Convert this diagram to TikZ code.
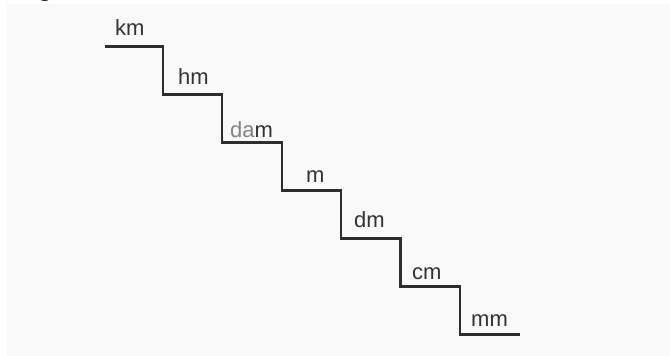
\documentclass[tikz,border=0pt]{standalone}
\usepackage{fontspec}
\setmainfont{Liberation Sans}
\newfontfamily\capfont{Liberation Serif}
\definecolor{panel}{HTML}{F9F9F9}
\definecolor{stair}{HTML}{2E2E2E}
\definecolor{ink}{HTML}{333333}
\definecolor{paleink}{HTML}{858585}
\begin{document}
\begin{tikzpicture}[x=1pt,y=-1pt,
  stairline/.style={draw=stair,line width=2.6pt,line join=miter,line cap=butt},
  unit/.style={anchor=base west,inner sep=0pt,text=ink,font=\fontsize{22}{22}\selectfont}]
  % page and shaded panel
  \fill[white] (0,0) rectangle (670,356);
  \useasboundingbox (0,0) rectangle (670,356);
  \fill[panel] (7,4) rectangle (670,356);
  % caption letter running off the top edge
  \begin{scope}
    \clip (0,0) rectangle (670,356);
    \node[anchor=base,inner sep=0pt,font=\capfont\bfseries\fontsize{22}{22}\selectfont] (cap) at (45,-3) {g};
  \end{scope}
  % corners of the staircase
  \coordinate (s0) at (105,46.5);
  \coordinate (c1) at (163,46.5);  \coordinate (c2) at (163,94.5);
  \coordinate (c3) at (222,94.5);  \coordinate (c4) at (222,142.5);
  \coordinate (c5) at (282,142.5); \coordinate (c6) at (282,190.5);
  \coordinate (c7) at (341,190.5); \coordinate (c8) at (341,238.5);
  \coordinate (c9) at (400.5,238.5); \coordinate (c10) at (400.5,286.5);
  \coordinate (c11) at (460,286.5); \coordinate (c12) at (460,334.5);
  \coordinate (s1) at (520,334.5);
  \path[stairline] (s0) -- (c1) -- (c2) -- (c3) -- (c4) -- (c5) -- (c6)
    -- (c7) -- (c8) -- (c9) -- (c10) -- (c11) -- (c12) -- (s1);
  % unit labels on the treads
  \node[unit] (km) at (115,35) {km};
  \node[unit] (hm) at (178,84) {hm};
  \node[unit] (dam) at (230,137) {\textcolor{paleink}{da}m};
  \node[unit] (m) at (306,182) {m};
  \node[unit] (dm) at (354,227) {dm};
  \node[unit] (cm) at (412,279) {cm};
  \node[unit] (mm) at (471,326) {mm};
\end{tikzpicture}
\end{document}
